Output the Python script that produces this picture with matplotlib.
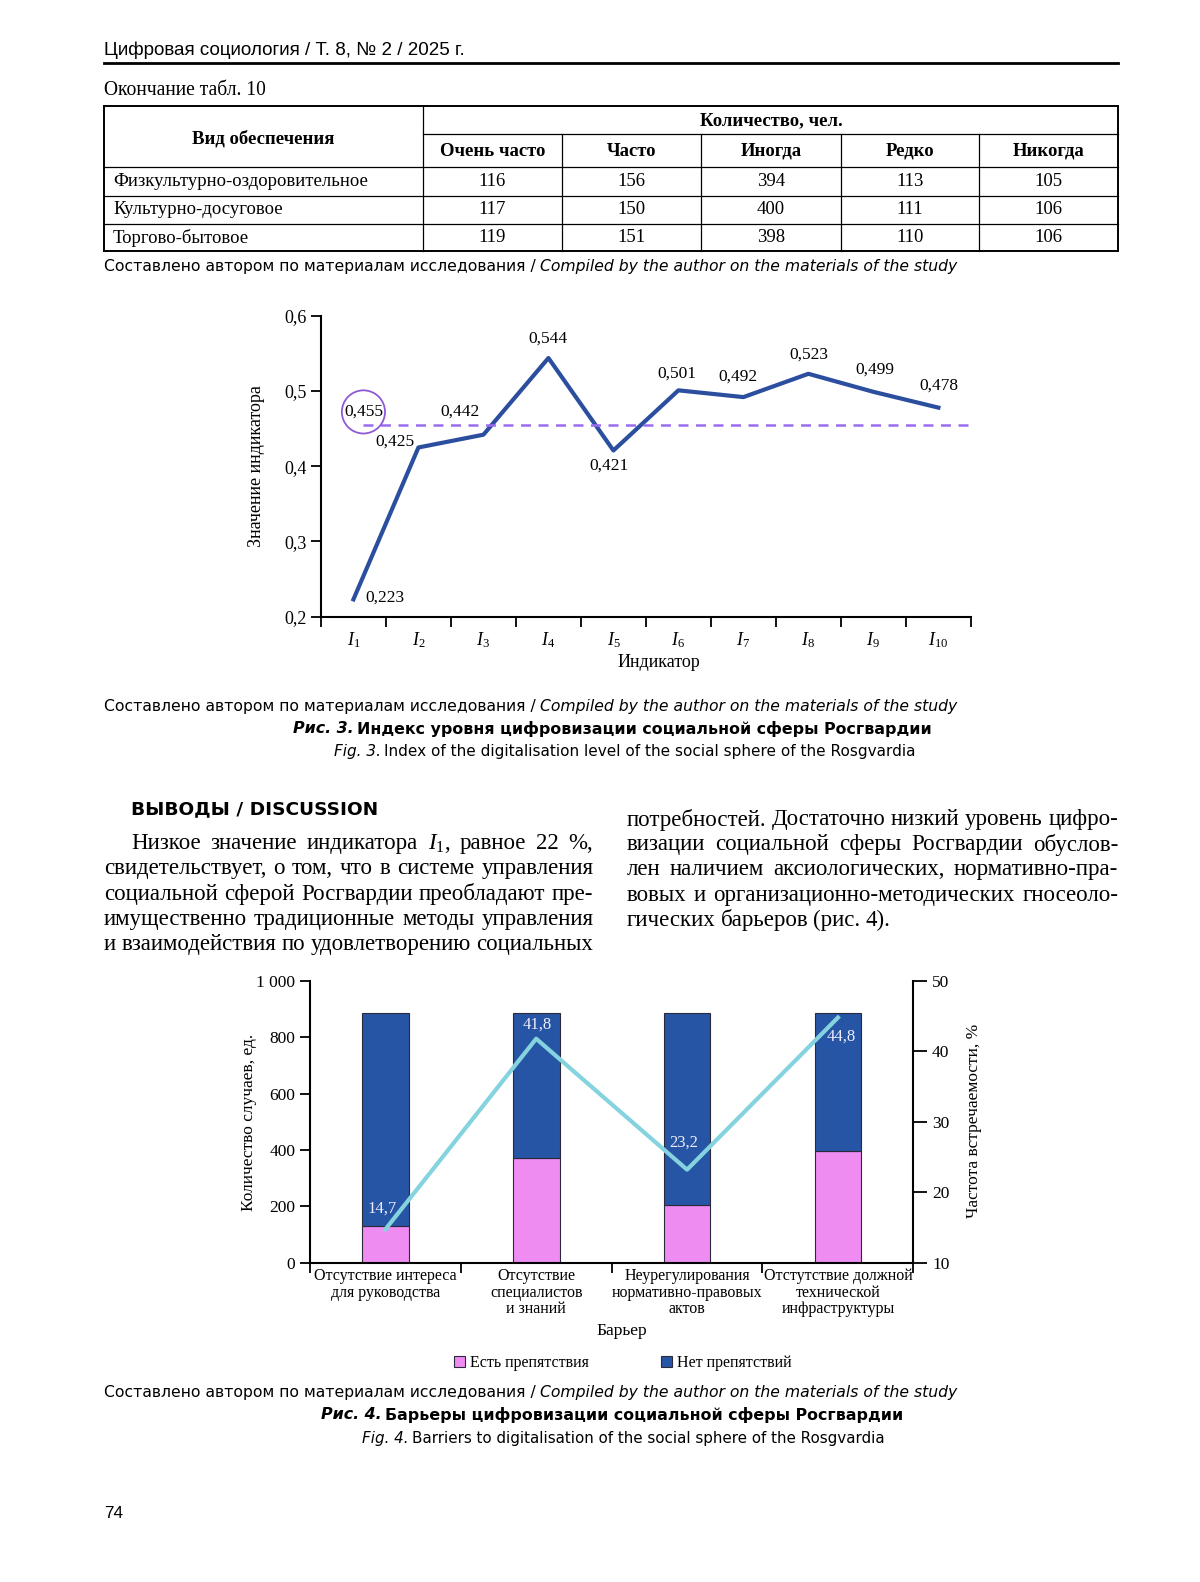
import matplotlib
matplotlib.use("Agg")
import matplotlib.pyplot as plt
from matplotlib.patches import Patch

plt.rcParams['font.family'] = ['Liberation Serif', 'DejaVu Serif']
plt.rcParams['mathtext.fontset'] = 'custom'
plt.rcParams['mathtext.rm'] = 'Liberation Serif'
plt.rcParams['mathtext.it'] = 'Liberation Serif:italic'

# ---- data ----
table_rows = ["Физкультурно-оздоровительное", "Культурно-досуговое", "Торгово-бытовое"]
table_cols = ["Очень часто", "Часто", "Иногда", "Редко", "Никогда"]
very_often = [116, 117, 119]
often = [156, 150, 151]
sometimes = [394, 400, 398]
rarely = [113, 111, 110]
never = [105, 106, 106]

indicators = [f"$I_{{{i}}}$" for i in range(1, 11)]
index_values = [0.223, 0.425, 0.442, 0.544, 0.421, 0.501, 0.492, 0.523, 0.499, 0.478]
index_mean = 0.455

barriers = ["Отсутствие интереса\nдля руководства",
            "Отсутствие\nспециалистов\nи знаний",
            "Неурегулирования\nнормативно-правовых\nактов",
            "Отстутствие должной\nтехнической\nинфраструктуры"]
has_obstacles = [130, 370, 205, 396]
no_obstacles = [755, 515, 680, 489]
frequency_pct = [14.7, 41.8, 23.2, 44.8]

left_text = ["Низкое значение индикатора $I_1$, равное 22 %,",
             "свидетельствует, о том, что в системе управления",
             "социальной сферой Росгвардии преобладают пре-",
             "имущественно традиционные методы управления",
             "и взаимодействия по удовлетворению социальных"]
right_text = ["потребностей. Достаточно низкий уровень цифро-",
              "визации социальной сферы Росгвардии обуслов-",
              "лен наличием аксиологических, нормативно-пра-",
              "вовых и организационно-методических гносеоло-",
              "гических барьеров (рис. 4)."]

source_ru = "Составлено автором по материалам исследования /"
source_en = "Compiled by the author on the materials of the study"

# ---- page ----
S = 1200 / 1189
fig = plt.figure(figsize=(12, 15.82), dpi=100)
page = fig.add_axes([0, 0, 1, 1])
page.set_xlim(0, 1200 / S)
page.set_ylim(1582 / S, 0)
page.axis('off')
r = fig.canvas.get_renderer()
SANS = 'DejaVu Sans'


def rect(x0, y0, x1, y1):
    return [x0 * S / 1200, 1 - y1 * S / 1582, (x1 - x0) * S / 1200, (y1 - y0) * S / 1582]


def seq(x0, x1, y, parts, family=SANS):
    ts = [page.text(0, y, s, fontsize=10, family=family, va='center', **kw) for s, kw in parts]
    ws = [t.get_window_extent(r).width for t in ts]
    gap = 3.0
    k = (x1 - x0) * S / (sum(ws) + gap * (len(ts) - 1))
    x = x0
    for t, w in zip(ts, ws):
        t.set_fontsize(10 * k)
        t.set_x(x)
        x += (w + gap) * k / S
    return ts


def word_widths(line, size):
    ws = []
    for w in line.split():
        t = page.text(0, 0, w, fontsize=size)
        ws.append(t.get_window_extent(r).width / S)
        t.remove()
    return ws


def justify(x0, x1, y, line, size, last=False):
    words = line.split()
    ts = [page.text(0, y, w, fontsize=size, va='center') for w in words]
    ws = [t.get_window_extent(r).width / S for t in ts]
    gap = size * 0.3 if last else (x1 - x0 - sum(ws)) / (len(words) - 1)
    x = x0
    for t, w in zip(ts, ws):
        t.set_x(x)
        x += w + gap


# header
seq(103, 463, 50, [("Цифровая социология / Т. 8, № 2 / 2025 г.", {})], family='Liberation Sans')
page.plot([103, 1108], [62, 62], color='black', lw=2)
seq(103, 265, 90, [("Окончание табл. 10", {})], family='Liberation Serif')

# table
cx = [103, 419, 557, 695, 833, 970, 1108]
ry = [105, 133, 165, 194, 222, 249]
for y in [105, 249]:
    page.plot([103, 1108], [y, y], color='black', lw=1.4)
for y in ry[2:-1]:
    page.plot([103, 1108], [y, y], color='black', lw=0.9)
page.plot([419, 1108], [133, 133], color='black', lw=0.9)
for x in [103, 1108]:
    page.plot([x, x], [105, 249], color='black', lw=1.4)
page.plot([419, 419], [105, 249], color='black', lw=0.9)
for x in cx[2:-1]:
    page.plot([x, x], [133, 249], color='black', lw=0.9)
tfs = 13.5
page.text(261, 137, "Вид обеспечения", ha='center', va='center', fontsize=tfs, weight='bold')
page.text(764, 120, "Количество, чел.", ha='center', va='center', fontsize=tfs, weight='bold')
for j, c in enumerate(table_cols):
    page.text((cx[j + 1] + cx[j + 2]) / 2, 150, c, ha='center', va='center', fontsize=tfs, weight='bold')
columns = [very_often, often, sometimes, rarely, never]
for i, name in enumerate(table_rows):
    yc = (ry[i + 2] + ry[i + 3]) / 2
    page.text(112, yc, name, ha='left', va='center', fontsize=tfs)
    for j, col in enumerate(columns):
        page.text((cx[j + 1] + cx[j + 2]) / 2, yc, str(col[i]), ha='center', va='center', fontsize=tfs)

for y in [264, 700, 1380]:
    seq(103, 948, y, [(source_ru, {}), (source_en, {'style': 'italic'})])

# ---- figure 3: line chart ----
ax1 = fig.add_axes(rect(318, 313, 962, 611))
ax1.set_facecolor('none')
xs = list(range(1, 11))
ax1.plot(xs, index_values, color='#2b4f9e', lw=3)
ax1.plot([1.15, 10.5], [index_mean, index_mean], color='#9b6cf0', lw=1.8, ls=(0, (4, 3)))
ax1.set_xlim(0.5, 10.5)
ax1.set_ylim(0.2, 0.6)
ax1.set_yticks([0.2, 0.3, 0.4, 0.5, 0.6])
ax1.set_yticklabels([f"{v:.1f}".replace('.', ',') for v in [0.2, 0.3, 0.4, 0.5, 0.6]], fontsize=13)
ax1.set_xticks([k + 0.5 for k in range(11)])
ax1.set_xticklabels([])
ax1.set_xticks(xs, minor=True)
ax1.set_xticklabels(indicators, minor=True, fontsize=13)
ax1.tick_params(axis='x', which='minor', length=0, pad=10)
ax1.tick_params(axis='both', which='major', direction='out', length=7, width=1.3)
for s in ['top', 'right']:
    ax1.spines[s].set_visible(False)
for s in ['left', 'bottom']:
    ax1.spines[s].set_linewidth(1.5)

label_offsets = [(31, 2), (-23, 6), (-23, 23), (0, 19), (-4, -15),
                 (-2, 17), (-5, 20), (0, 19), (1, 22), (0, 22)]
for x, v, off in zip(xs, index_values, label_offsets):
    ax1.annotate(f"{v:.3f}".replace('.', ','), (x, v), xytext=off, textcoords='offset pixels',
                 ha='center', va='center', fontsize=12.5)
ax1.annotate(f"{index_mean:.3f}".replace('.', ','), (1, index_mean), xytext=(10, 13),
             textcoords='offset pixels', ha='center', va='center', fontsize=12.5,
             bbox=dict(boxstyle='circle,pad=0.12', fc='none', ec='#8e5ad8', lw=1.3))
ax1.text(-0.099, 0.5, "Значение индикатора", rotation=90, ha='center', va='center',
         fontsize=13, transform=ax1.transAxes)
ax1.text(0.52, -0.154, "Индикатор", ha='center', va='center', fontsize=13, transform=ax1.transAxes)

seq(290, 921, 722, [("Рис. 3.", {'weight': 'bold', 'style': 'italic'}),
                    ("Индекс уровня цифровизации социальной сферы Росгвардии", {'weight': 'bold'})])
seq(331, 907, 745, [("Fig. 3.", {'style': 'italic'}),
                    ("Index of the digitalisation level of the social sphere of the Rosgvardia", {})])

# ---- text ----
seq(130, 374, 802, [("ВЫВОДЫ / DISCUSSION", {'weight': 'bold'})])
# pick the body size so that the tightest line still has normal word spacing
ratios = []
for i, line in enumerate(left_text):
    ws = word_widths(line, 10)
    target = (588 - (130 if i == 0 else 103))
    ratios.append(target / (sum(ws) + 0.2 * 10 * 1.389 / S * (len(ws) - 1)))
for line in right_text[:-1]:
    ws = word_widths(line, 10)
    ratios.append((1108 - 621) / (sum(ws) + 0.2 * 10 * 1.389 / S * (len(ws) - 1)))
body = 10 * min(ratios)
for i, line in enumerate(left_text):
    justify(130 if i == 0 else 103, 588, 836 + 25 * i, line, body)
for i, line in enumerate(right_text):
    justify(621, 1108, 812 + 25 * i, line, body, last=(i == len(right_text) - 1))

# ---- figure 4: bars ----
pink = '#ee8cf2'
blue = '#2755a5'
ax2 = fig.add_axes(rect(307, 972, 905, 1251))
ax2.set_facecolor('none')
bx = list(range(len(barriers)))
ax2.bar(bx, has_obstacles, width=0.31, color=pink, edgecolor='#2a2a3a', lw=0.8)
ax2.bar(bx, no_obstacles, width=0.31, bottom=has_obstacles, color=blue, edgecolor='#2a2a3a', lw=0.8)
ax2.set_xlim(-0.5, 3.5)
ax2.set_ylim(0, 1000)
yt = [0, 200, 400, 600, 800, 1000]
ax2.set_yticks(yt)
ax2.set_yticklabels(["1 000" if v == 1000 else str(v) for v in yt], fontsize=12.5)
ax2.set_xticks([k - 0.5 for k in range(5)])
ax2.set_xticklabels([])
ax2.set_xticks(bx, minor=True)
ax2.set_xticklabels(barriers, minor=True, fontsize=11.5, linespacing=1.05)
ax2.tick_params(axis='x', which='minor', length=0, pad=4)
ax2.tick_params(axis='both', which='major', direction='out', length=7, width=1.3)
ax2.spines['top'].set_visible(False)
ax2.spines['right'].set_visible(False)
for s in ['left', 'bottom']:
    ax2.spines[s].set_linewidth(1.5)

ax3 = ax2.twinx()
ax3.plot(bx, frequency_pct, color='#84d3de', lw=3)
ax3.set_ylim(10, 50)
ax3.set_yticks([10, 20, 30, 40, 50])
ax3.set_yticklabels(["10", "20", "30", "40", "50"], fontsize=12.5)
ax3.tick_params(axis='y', direction='out', length=10, width=1.3)
ax3.spines['top'].set_visible(False)
ax3.spines['left'].set_visible(False)
ax3.spines['bottom'].set_visible(False)
ax3.spines['right'].set_linewidth(1.5)
pct_offsets = [(-3, 21), (1, 14), (-3, 27), (3, -19)]
for x, p, off in zip(bx, frequency_pct, pct_offsets):
    ax3.annotate(f"{p:.1f}".replace('.', ','), (x, p), xytext=off, textcoords='offset pixels',
                 ha='center', va='center', fontsize=12, color='#eeeefc')

ax2.text(-0.100, 0.498, "Количество случаев, ед.", rotation=90, ha='center', va='center',
         fontsize=12.5, transform=ax2.transAxes)
ax2.text(1.100, 0.505, "Частота встречаемости, %", rotation=90, ha='center', va='center',
         fontsize=12.5, transform=ax2.transAxes)
ax2.text(0.517, -0.244, "Барьер", ha='center', va='center', fontsize=12.5, transform=ax2.transAxes)
ax2.legend(handles=[Patch(fc=pink, ec='#2a2a3a', lw=0.8), Patch(fc=blue, ec='#2a2a3a', lw=0.8)],
           labels=["Есть препятствия", "Нет препятствий"], loc='center', bbox_to_anchor=(0.518, -0.358),
           ncol=2, frameon=False, fontsize=11.5, handlelength=0.7, handleheight=0.7,
           handletextpad=0.3, columnspacing=4.5)

seq(318, 893, 1402, [("Рис. 4.", {'weight': 'bold', 'style': 'italic'}),
                     ("Барьеры цифровизации социальной сферы Росгвардии", {'weight': 'bold'})])
seq(359, 878, 1425, [("Fig. 4.", {'style': 'italic'}),
                     ("Barriers to digitalisation of the social sphere of the Rosgvardia", {})])

seq(103, 122, 1500, [("74", {})], family='Liberation Sans')

fig.savefig("out.png", dpi=100)
